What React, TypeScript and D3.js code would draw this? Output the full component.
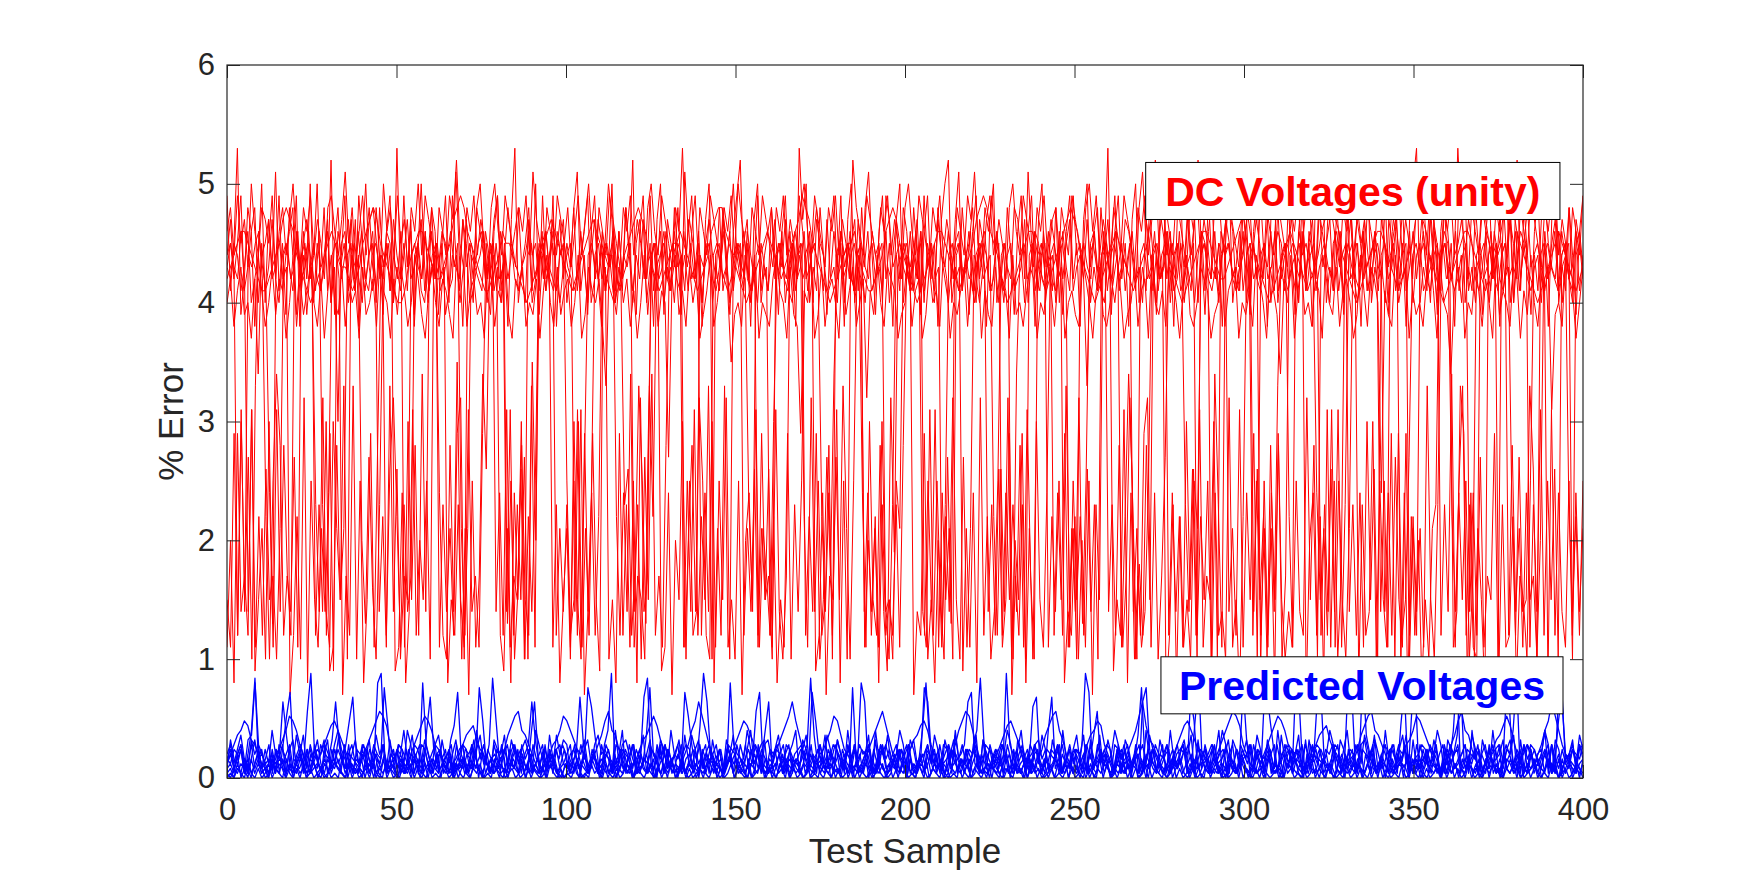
import React, { useEffect, useRef } from "react";
import * as d3 from "d3";

// DC voltage error per test sample, one letter per sample, read on the scale
// "a" = 0.5 %, "b" = 0.6 % ... "z" = 3.0 %, "A" = 3.1 % ... "Z" = 5.6 %
const dcLevels = "abcdefghijklmnopqrstuvwxyzABCDEFGHIJKLMNOPQRSTUVWXYZ";
const dcVoltages: string[] = [
  [
    "NQLOSKMPRJNOQLMSKNPRIMOQLNTKMPJORLNQMKSOLNPJRMOKQNLSMPIOQKNRLMPOJSNKQMOLRPNJMQSKOLNPRMJQNOKSLMPNQL",
    "OMRKNPSJLQONMTKPLRNJOQMLSKNPIQOMRLNKPSMJOQNLRKMPTNLOQJMSKNPRLOMQKJNSPLMORNKQLPMSJNOQKRMLPNOJSQMNKR",
    "PLNQKSMOJRNMPLQUKNORLJMQSNPKOMLRQNJPSKMOLNQRJPMKSNOLQMPRKJNOSLMQPNKRUOLMJQSNPKLOMRNQJPKSMLONQRPKMN",
    "QJOLSNMPKRLNOQMJSKPNLRMOQKNPJSLMROQNKPMLSJOQNRKMPLOSNJQMKRPLNOQSKMJNRPOLMQKNSJPLORMNKQSOMLPJNRKQOM",
  ].join(""),
  [
    "LMNOPPONMLKKLMNOQRQPNMLKJKLMNOPONMMLKLMOPQRQONMLKJJKMNOPPONMLLMNOQRSRPONMLKKLMNPOONMLKJKLMNOPQPON",
    "MLKLMNOPQPOMLKJKLNOPQRQPNMLKLMNOOPONMLKLMNPQRRPONMLKJKLMNOPONMLMNOPQSRQONMLKJKLMNOOPNMLKKLMNPQRQO",
    "NMLKJKLMNOPPONMLKLMNOQRSRPONLKJKLMNOPPOMLKLMNOPQRQPNMLKJKLMNOPONMLKLMNOQRSQONMLKJKLMNOPPONMLLMNOPQ",
    "RQONMLKJKLMNOPONMLKLMNPQRSQPNMLKJKLMNOPPONMLKLMNOQRQPNMLKJKLMNOPPONMLKLMNOQRSRPONMLKJKLMNOPONMLKLM",
  ].join(""),
  [
    "JLHKMIJGLNKHJMILKGJNHLIKMJHLGKNJIMHLJKGMIJLHNKJGLIMKHJNLIGKMJHLKIGNJMHKLIJGMLHKJNIGLKMHJILGKNJHMI",
    "KLHJNGIMKJLHCNKIMJLHKGJNIMLHKJwLNIKHMJLGIKNHJMLKEIJHNLKMGJIHLNKJGMIHyKJNGIMHKLJGNIKMHJLBKINJHMLKGI",
    "JNHKLGIMJKHNLGJIKMHLJNGKIHMJLKGNIJHKMLGJINKHLMGJKIHNLJGKMIHJLNKGIJMHKLGNJIKHMLJGKNIHJMLKGIJNHKLMGJ",
    "IKHNLJGMKIDLJNGKMIJHLKGNJIMHKLJGINKHMLJtKIHNJLMGKIJHLNKGMJIDKLNGJIMKHLJGNIKJHMLGKINJHLKMAIJHNLKGJM",
  ].join(""),
  [
    "PRNSOQMTPNRQOSLPRNQTOMRPSNQOLRSPNQUORMPSNQROLTPRNSOQMRPTNSQOLRPNSQVOMRPSNQOLRTPNSQOMRPSNUQOLRPNSQ",
    "ORMPSNQTOLRPNSQOMRPSNQOLRTPNSQOMRPWNQOLRPNSQOMRPSNTQOLRPNSQOMRPSNQOLRTPNSQOMRPSNQOLVRPNSQOMRPSNQOL",
    "RTPNSQOMRPSNQOLRPNSQUOMRPSNQOLRTPNSQOMRPSNQOLRPNSQOMRTPSNQOLRPNSQOMRPSNQVOLRPNSQOMRPSNQOLRTPNSQOMR",
    "PSNQOLRPNSQOMRPSNQTOLRPNSQOMRPSNQOLRPNSQOMRPSNQOLRTPNSQOMRPSNWQOLRPNSQOMRPSNQOLRPNSQOMRPSTNQOLRPNS",
  ].join(""),
  [
    "MLONKMPJLDOKMQLJNOMKPLNIMOLKNQJMzOPKNMLJORMKNLPOJMKNQLMOKJNPLMOIKNMLQOJKMNPLOKMJNROLKMNPJLOMKNQLJM",
    "NOKLPMJNQLOKMNJPLMOKNLQJMOKNPLMJONKQLMPJNOLKMQNJLOMKPNLJOMKNQLPJMOKNLMPJQONKLMJPNOLKQMJNOLMKPJNQLO",
    "MKNLPJOMKQNLJMOPKNLMJQONKLPMJNOKLMQJNPOLKMNJPLOQKMNLCOPMKNQLJMOKNPLMJQOKNLMPJNOKLQMJNPOLKMJNQOLKMP",
    "JNOLKMQJNPOLKMNJPLOQKMNLJOPMKNQLJMOKNPLMJQOKNLMPJNOKLQMJNPOLKMJNQOLKMPJNOLKMQJNPOLKMNJPLOQKMNLJOPM",
  ].join(""),
  [
    "SKOWILRPHNTJQMUKOIRNSHPLTJOMRKVIPNSJLQHOTMKRNIPSJWLOKQHNTMJRPIOSKLUNHQMJRTOKIPSLNHQWJMORKTINPLSHOQ",
    "JMRUKNIPSLHOTQJMKRNVIPSLOHQTJMKRNIUPSLOHQTJMKRNIPSVLOHQTJMKRNIPSLOHWQTJMKRNIPSLOHQTJMKRUNIPSLOHQT",
    "JMKRNIPSLOHQTVJMKRNIPSLOHQTJMKRNIPSLUOHQTJMKRNIPSLOHQTJMKRNWIPSLOHQTJMKRNIPSLOHQTJMKRVNIPSLOHQTJMK",
    "RNIPSLOHQTJMKRNIPSLOHUQTJMKRNIPSLOHQTJMKRNIPSLOHQTWJMKRNIPSLOHQTJMKRNIPSLOHQTJMVKRNIPSLOHQTJMKRNIPS",
  ].join(""),
  [
    "MOLhzkwfCPMKtgAjxmhNOLMPKsjBhyeNMOLQKNpiwlfsMOKNLPgzkxhDjNMOKLNPMOqhAjmgyOLNKPMiuflxkhEpNOMLKPN",
    "OMLjzgqhykeNOMPLKsvhnCuiCrMNOLKPMNgpxjBuhfNOMPKLNOMLskAgqmhzNOLKMPNOhrjyfkwmDNPMOLKNtgzkhxjeBoMN",
    "OLKPMjgAhukfwiNOLMPKNOLMNrhvjBgpkyfNOLKPMNhtkygqjBiuNOMLPKNOMgrDufnhxkNOLMPKNOLsjvhAgmkzfPNOMLKN",
    "PMhukrfxjCNOLMKPNOMLtkqhvjAgsNOLKPMNOLjugyfyhkwNOMPLKNOhsjDgtkufmNOLMKPNOLMrhwjkCvfpNOMLKPNOhtjq",
  ].join(""),
  [
    "kgyhAjNMOPLrfuDxhmjwgNOLMKPsjgzqkCfNOMPLKNOMLhvBrgsjmNOLPKMNthfxjEkgqNMOPLNKOLMjAhskwfCgNOPMLKNO",
    "uhkAgyjthrNOMPLKNMOjsfwkDhmgxNOLKPMOLNhtjzgukBfNOMPLKNhqkvgAjfmNOLMPKNOLrjthwkCqfuNOMPKLNOjkhsgx",
    "NMOLPKNOLMhrjBkfwgqNMOPLKNOhtksjxgAmfNOMPLKNOLgukrhvjsfNOMLPKNMOjqhyBgtfmwNOLPKMNOhrkufDsgNOLMPK",
    "NOjvhqgtkxfmNOMLPKNOLhsjAgukfqNOMPKLNOMjthwkgyfqhNOLMPKNOLrjuChsgfNOMPLKNOhxjqgtkmfNOLMPKNOsjrhu",
  ].join(""),
  [
    "gpdyjmhAekqfziNOLMchrfBdukgqjtNOLcmhCfudkygxNMOLegtdjAhpkufNOLMdkhsfqcugmDvNOLheqdtkzfrjuNOMLgsdk",
    "qfuhAcjtNOLMfkdyhsgudBjmNOLegtcpkzfuhjNMOLdqhCgkfucptjNOLMhrdkgyfsjuNOLehtcmkAdufNOMLgpjrdshkfuqN",
    "OLcjhyfkdpgsNOLMeqgtdBhrfjuNOLcmhsdqfzkgtNOMLdjhrfpgucskNOLekhAdtfmgjuNOLMchsdrgkfuqNOLdthjfBgkcr",
    "NOLMeuhqdykfjgNOLcpthrdAgufmNOMLdshjzfukgNOLetcrhpdkfqsNOLMgjCydtfqkcNOLesghrdmkfuNOMLdAhtjgufNOL",
  ].join(""),
  [
    "NOMLPKjAgrhvkmfqNOLMPKNOMhsjzegxkqNOLPMKNOLjrgCjvfmkNOMLPKNOgsjqhyBfNOMLKPNOjthAgmkvfNOLMPKNOhq",
    "jsgzkfwNOMLPKNOrhtjDgmkfyNOLMPKNOMgujAhrkCfNOLMPKNOhqjvgykmfNOMLPKNOrgBjuhkxfNOLMPKNOjthqgzkfsNOM",
    "LPKNOhujAgtkqfNOLMPKNOMjshvgkyfDNOLMPKNOgrjuhCkqfNOMLPKNOjshxgmBqfNOLMPKNOhtjrgzkvfNOMLPKNOjqhAg",
    "tkyfNOLMPKNOrgujhBkxfNOMLPKNOjshtgzkvfNOLMPKNOhrjqgCkfsNOMLPKNOjthwgmkyfNOLMPKNOgsjAhukvfNOLMPKN",
  ].join(""),
];

// predicted voltage error per test sample, one letter per sample: "a" = 0 %, each next letter +0.04 %
const predictedVoltages: string[] = [
  [
    "ciedgbfkvdcehbgfqjdcfheowgdbhfcejdhmrfcbgdhfetlcdhgbfjdcuhebfgdcilsfdbhcegdhvmdcbfhegdcjqfbhcdgeh",
    "fbdgrhcefdbhkwcdgfehbcdjtfdhbgecfdsnhcbgedfhcbduhfedcgbhekqcdfbhgcedfhvjdcbgehfdcbtehfgdcbhejdcfg",
    "bhdcekuidfbhgcdefhqsdcbhgfedcwhfbdegchfdbkrcehdgbfdchejodfcbhgedfchbqtgdcfehbdcgfhdmvecbhdfgcedbh",
    "fdhcgeupjdcbhfegdcbhfrsdcehgbfdchewjfcbdhgecfdhbotcedgfhbcdhfjudcegbfhdcgbehfkvcdbhgecfdhbsqfedcgh",
  ].join(""),
  [
    "edgfhcijuhfdecgbhnsedfcgbhdcfeiqhdcebgfhcdeuwfcdbhgecdfhbkrgdcefhbdcgfhetmdcbgefhdcgbfhqidcefbghd",
    "cfgdhetpjdcfebhgcdfhbervdcgfhebdcfhgbdlwqfcdebhgfcdhbeosdcgfhebdcfghbdsmfcdehgbfdcheuqcdbgfhedcgf",
    "hbdcetqfdgcbhefdcgbhkvidcfehgbdcfhbeprdcgfehbdcfgbhwscdefhgbdcfhbejtdcgfehbdcfghbrmcdefhgbdcfhbet",
    "idcgfehbdcfghbuqcdefhgbdcfhbevsdcgfehbdcfghbltcdefhgbdcfhbekwdcgfehbdcfghbqpcdefhgbdcfhbemsdcgfeh",
  ].join(""),
  [
    "dfhjkmlihfdcbcegiknmkhfdbcdfhjlmkigecbcegikmonlhfdcbdfhjlnmkhgecbdeghjkligfdcbcegjlnokjhfdbcdfhiknm",
    "kigdcbdfhjmokjgecbdegijlnlifdcbcdfhkmqnkhfdcbdegikmljhfdbcdfhjlnqmjgecbdfgiknmjgfdcbcegikmolifdcbe",
    "gijlmkhfdcbdfhkmonkhecbcdfhjlmkifdcbcegjlnokifdcbdfhjkmlhfdcbdegiknqlihfdbcdfhjlmkigecbcegikmonlh",
    "fdcbdfhjlnmkhgecbdeghjkligfdcbcegjlnokjhfdbcdfhiknmkigdcbdfhjmokjgecbdegijlnlifdcbcdfhkmqnkhfdcbde",
  ].join(""),
  [
    "bcadbecadfbcaebdcagbdceabdfcbadecbhadcbeadcfbadcebadgcbdaecbdfaecbdacebdfcaebdcagbdecabdfceabdcebad",
    "cbdaecbfdacbedagcbdaefcbdacebgdacbefdacbdgeacbdfacebdacgbedacfbdaecbdgacebdfacbdeacgbdfaecbdacebfda",
    "ebdcafbdceabgdcebadfcbdaecbdfagcbdaecfbdacegbdafcebdacbfdeacgbdacefbdaecbdfgacebdacfbdeacbdgaecbfd",
    "acbedafcbdaegcbdafcebdacbfdeagcbdafcebdacgbdeafcbdacebfdagcbdaecfbdacegbdafcebdacbfdeacgbdacefbdae",
  ].join(""),
  [
    "dfcegbdhcefdbgcedfhcbedgcfidbecgdfchbedfcgebdhcfegbdcfedhgcbdfecgbhdcfeidbcgefdhcbegdfcbhedgcfebdgc",
    "ehcdfbgecdhfbecgdfhbcedgfcbhdeficbdgehcfdbegchdfbcegdhfcbedgfhcbdegfchbdejcfdbgehcdfbecgdhfbcegdf",
    "hcbedgfcbhdeficbdgehcfdbegchdfbcegdhfcbedgfhcbdegfchbdejcfdbgehcdfbecgdhfbcegdfhcbedgfcbhdeficbdge",
    "hcfdbegchdfbcegdhfcbedgfhcbdegfchbdejcfdbgehcdfbecgdhfbcegdfhcbedgfcbhdeficbdgehcfdbegchdfbcegdhf",
  ].join(""),
  [
    "abacbadbacabdacbaebacadbcabadcabaebdacabcadbaeacbadbcaebacdabacbeadbacadcbabaecdabcabdaecbacadbaca",
    "bacdabaecbadbacabdcaebacbadacbeabdacabcadbeacabdacbaeabcdacbadbeacabdcabaecbdacabdaecbacadbabcead",
    "cabadbeacbadcabaebdacbacdaebacbadcaebdacabcadbeacabdacbaeadbcacbdaeabcdacbadbeacabdcabaecbdacabdae",
    "cbacadbabceadcabadbeacbadcabaebdacbacdaebacbadcaebdacabcadbeacabdacbaeadbcacbdaeabcdacbadbeacabdca",
  ].join(""),
  [
    "egcfhdbeiegcdfbhgecdjfbegdchfibdgecfhdbgeicfdhbegcfdkhbecgdfhbiegcdfhbecgjdfbhecgdifbhegcdfhbjegcd",
    "fhbecgidfbhegcdfkbhecgdfibhegcdfhbjecgdfhbiegcdfbhecgkdfbhiegcdfhbecgjdfbhecgdifbhegcdfhbkegcdfhbe",
    "cgidfbhegcdfhbjecgdfhbiegcdfbhecgkdfbhiegcdfhbecgjdfbhecgdifbhegcdfhbkegcdfhbecgidfbhegcdfkbhecgdf",
    "ibhegcdfhbjecgdfhbiegcdfbhecgkdfbhiegcdfhbecgjdfbhecgdifbhegcdfhbkegcdfhbecgidfbhegcdfkbhecgdfibhe",
  ].join(""),
  [
    "cdbfacebdgcabedfcbdaegcbfdacebgdcbafedcbgdaecfbdcaebgdfcbadecgbdfacebdcgafbdecbadgcfebdacbegdfcab",
    "dcebafdcgbedacfbdgeacbdfceagbdcfaebdcgafbedcabgfdecbadfcgebdacfbgedcabfdgecbadfcegbdacfgbedcabfdg",
    "ecbadfcegbdacfgbedcabfdgecbadfcegbdacfgbedcabfdgecbadfcegbdacfgbedcabfdgecbadfcegbdacfgbedcabfdge",
    "cbadfcegbdacfgbedcabfdgecbadfcegbdacfgbedcabfdgecbadfcegbdacfgbedcabfdgecbadfcegbdacfgbedcabfdgecb",
  ].join(""),
  [
    "fhdgjebifhcgdkfehbgidfjchegfibdhkgecfidhgbejfhcidgfkebhgdifchjegbfidhgcfkehdbigfjcehdgifbkhecgdjfi",
    "hbegfidchjfgebkdhifcgejbhfdigckfehbdjgicfhedgbifjchekgdfhibcgjedfhkbigcefhdjgbifckehdgfjbichegdfkh",
    "bigcefhdjgbifckehdgfjbichegdfkhbigcefhdjgbifckehdgfjbichegdfkhbigcefhdjgbifckehdgfjbichegdfkhbigce",
    "fhdjgbifckehdgfjbichegdfkhbigcefhdjgbifckehdgfjbichegdfkhbigcefhdjgbifckehdgfjbichegdfkhbigcefhdjg",
  ].join(""),
  [
    "bacbdcaebdbcadcbeacbdbcaedbcabdcebacdbcaebdacbdcabecbdacbdaecbdcabdcebacbdacebdbcadcbeacbdbcaedbca",
    "bdcebacdbcaebdacbdcabecbdacbdaecbdcabdcebacbdacebdbcadcbeacbdbcaedbcabdcebacdbcaebdacbdcabecbdacbd",
    "aecbdcabdcebacbdacebdbcadcbeacbdbcaedbcabdcebacdbcaebdacbdcabecbdacbdaecbdcabdcebacbdacebdbcadcbea",
    "cbdbcaedbcabdcebacdbcaebdacbdcabecbdacbdaecbdcabdcebacbdacebdbcadcbeacbdbcaedbcabdcebacdbcaebdacbd",
  ].join(""),
];

const xTicks = [0, 50, 100, 150, 200, 250, 300, 350, 400];
const yTicks = [0, 1, 2, 3, 4, 5, 6];
const xLabel = "Test Sample";
const yLabel = "% Error";
const dcLabel = "DC Voltages (unity)";
const predLabel = "Predicted Voltages";
// text boxes in data units: [x from, x to, top, bottom]
const dcBox = [271, 393.2, 5.18, 4.7];
const predBox = [275.5, 394.1, 1.02, 0.54];

const decodeDc = (s: string) => s.split("").map((c) => 0.5 + 0.1 * dcLevels.indexOf(c));
const decodePred = (s: string) => s.split("").map((c) => 0.04 * (c.charCodeAt(0) - 97));

const App = () => {
  const svgRef = useRef<SVGSVGElement>(null);

  useEffect(() => {
    const width = 1748, height = 875;
    const marginLeft = 227, marginRight = 165, marginTop = 65, marginBottom = 97;
    const font = "'Liberation Sans', Arial, Helvetica, sans-serif";
    const axisColor = "#262626";
    const tickLen = 13;

    const svg = d3.select(svgRef.current)
      .attr("width", width)
      .attr("height", height);

    svg.selectAll("*").remove();

    svg.append("rect").attr("width", width).attr("height", height).attr("fill", "white");

    const xScale = d3.scaleLinear().domain([0, 400]).range([marginLeft, width - marginRight]);
    const yScale = d3.scaleLinear().domain([0, 6]).range([height - marginBottom, marginTop]);

    svg.append("clipPath").attr("id", "plot-area")
      .append("rect")
      .attr("x", marginLeft)
      .attr("y", marginTop)
      .attr("width", width - marginLeft - marginRight)
      .attr("height", height - marginTop - marginBottom);

    const line = d3.line<number>()
      .x((d, i, arr) => xScale((i * 400) / (arr.length - 1)))
      .y((d) => yScale(d));

    const plot = svg.append("g").attr("clip-path", "url(#plot-area)");

    plot.selectAll("path.dc")
      .data(dcVoltages.map(decodeDc))
      .enter()
      .append("path")
      .attr("class", "dc")
      .attr("d", line)
      .attr("fill", "none")
      .attr("stroke", "#ff0000")
      .attr("stroke-width", 1)
      .attr("stroke-linejoin", "round");

    plot.selectAll("path.pred")
      .data(predictedVoltages.map(decodePred))
      .enter()
      .append("path")
      .attr("class", "pred")
      .attr("d", line)
      .attr("fill", "none")
      .attr("stroke", "#0000ff")
      .attr("stroke-width", 1.3)
      .attr("stroke-linejoin", "round");

    // labelled text boxes
    const boxes = [
      { box: dcBox, label: dcLabel, color: "#ff0000" },
      { box: predBox, label: predLabel, color: "#0000ff" },
    ];
    boxes.forEach(({ box, label, color }) => {
      const [x0, x1, yTop, yBottom] = box;
      svg.append("rect")
        .attr("x", xScale(x0))
        .attr("y", yScale(yTop))
        .attr("width", xScale(x1) - xScale(x0))
        .attr("height", yScale(yBottom) - yScale(yTop))
        .attr("fill", "white")
        .attr("stroke", "#000")
        .attr("stroke-width", 1);
      svg.append("text")
        .attr("x", (xScale(x0) + xScale(x1)) / 2)
        .attr("y", (yScale(yTop) + yScale(yBottom)) / 2)
        .attr("dy", "0.36em")
        .attr("text-anchor", "middle")
        .attr("font-family", font)
        .attr("font-weight", "bold")
        .attr("font-size", 41)
        .attr("fill", color)
        .text(label);
    });

    // axes, ticks point inwards on all four sides
    const bottom = svg.append("g")
      .attr("transform", `translate(0,${height - marginBottom})`)
      .call(d3.axisBottom(xScale).tickValues(xTicks).tickSizeInner(-tickLen).tickSizeOuter(0).tickPadding(20).tickFormat(d3.format("d")));
    const left = svg.append("g")
      .attr("transform", `translate(${marginLeft},0)`)
      .call(d3.axisLeft(yScale).tickValues(yTicks).tickSizeInner(-tickLen).tickSizeOuter(0).tickPadding(12).tickFormat(d3.format("d")));
    const top = svg.append("g")
      .attr("transform", `translate(0,${marginTop})`)
      .call(d3.axisTop(xScale).tickValues(xTicks).tickSizeInner(-tickLen).tickSizeOuter(0).tickFormat(() => ""));
    const right = svg.append("g")
      .attr("transform", `translate(${width - marginRight},0)`)
      .call(d3.axisRight(yScale).tickValues(yTicks).tickSizeInner(-tickLen).tickSizeOuter(0).tickFormat(() => ""));

    [bottom, left, top, right].forEach((g) => {
      g.select(".domain").remove();
      g.selectAll("line").attr("stroke", axisColor).attr("stroke-width", 1);
      g.selectAll("text")
        .attr("fill", axisColor)
        .attr("font-family", font)
        .attr("font-size", 31);
    });

    svg.append("rect")
      .attr("x", marginLeft)
      .attr("y", marginTop)
      .attr("width", width - marginLeft - marginRight)
      .attr("height", height - marginTop - marginBottom)
      .attr("fill", "none")
      .attr("stroke", axisColor)
      .attr("stroke-width", 1.2);

    svg.append("text")
      .attr("x", (marginLeft + width - marginRight) / 2)
      .attr("y", 863)
      .attr("text-anchor", "middle")
      .attr("font-family", font)
      .attr("font-size", 35)
      .attr("fill", axisColor)
      .text(xLabel);

    svg.append("text")
      .attr("transform", `translate(183,${(marginTop + height - marginBottom) / 2}) rotate(-90)`)
      .attr("text-anchor", "middle")
      .attr("font-family", font)
      .attr("font-size", 35)
      .attr("fill", axisColor)
      .text(yLabel);
  }, []);

  return <svg ref={svgRef} style={{ position: "absolute", left: 0, top: 0, display: "block" }}></svg>;
};

export default App;
